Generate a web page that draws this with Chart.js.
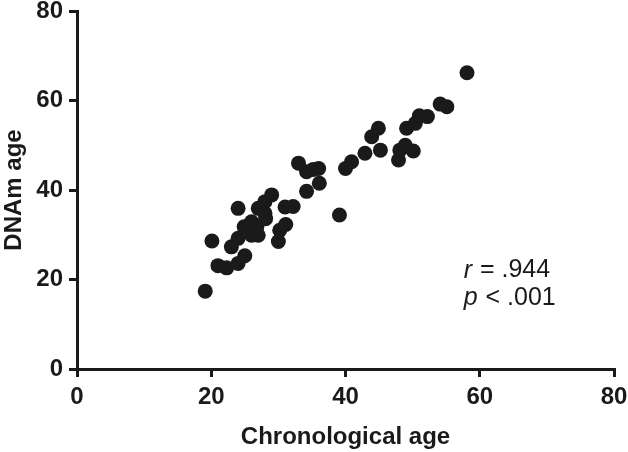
<!DOCTYPE html>
<html>
<head>
<meta charset="utf-8">
<script src="https://cdn.jsdelivr.net/npm/chart.js@4/dist/chart.umd.min.js"></script>
<style>
html,body{margin:0;padding:0;background:#fff;}
#wrap{width:628px;height:452px;position:relative;}
</style>
</head>
<body>
<div id="wrap"><canvas id="c" width="628" height="452"></canvas></div>
<script>
const chronoAge = [19.1,20.1,21.0,22.3,23.0,24.0,24.0,24.0,25.0,24.9,26.0,26.0,27.0,26.8,27.0,28.0,29.0,28.0,28.1,31.0,32.2,30.2,31.1,30.0,34.2,33.0,34.2,35.2,36.0,36.1,39.1,40.0,40.9,42.9,43.9,44.9,45.2,47.9,48.1,49.1,48.9,50.1,50.4,51.0,52.2,54.1,55.1,58.1];
const dnamAge  = [17.4,28.6,23.1,22.6,27.3,35.9,29.2,23.6,25.3,31.8,32.9,29.9,29.9,31.8,35.9,37.4,38.9,34.8,33.6,36.2,36.3,31.0,32.3,28.5,39.7,46.0,44.1,44.6,44.8,41.5,34.4,44.8,46.3,48.2,51.9,53.8,48.9,46.7,48.9,53.8,50.0,48.7,54.9,56.6,56.4,59.2,58.6,66.2];
const xTicks = [0,20,40,60,80];
const yTicks = [0,20,40,60,80];
const statR = ".944";
const statP = ".001";

const points = chronoAge.map((x,i)=>({x:x,y:dnamAge[i]}));
const FONT = "'Liberation Sans', Arial, sans-serif";
const INK = '#1a1a1a';

const statsPlugin = {
  id:'stats',
  afterDraw(chart){
    const ctx = chart.ctx, xs = chart.scales.x, ys = chart.scales.y;
    const lines = [["r"," = "+statR, 22.0],["p"," < "+statP, 15.9]];
    ctx.save();
    ctx.fillStyle = INK;
    ctx.textBaseline = 'middle';
    lines.forEach(([a,b,yv])=>{
      const px = xs.getPixelForValue(57.6), py = ys.getPixelForValue(yv);
      ctx.font = "italic 25px " + FONT;
      ctx.fillText(a, px, py);
      const w = ctx.measureText(a).width;
      ctx.font = "25px " + FONT;
      ctx.fillText(b, px + w + 1, py);
    });
    ctx.restore();
  }
};

new Chart(document.getElementById('c'), {
  type:'scatter',
  data:{datasets:[{data:points, backgroundColor:INK, borderColor:INK, pointRadius:7.5, pointHoverRadius:7.5, borderWidth:0}]},
  options:{
    responsive:false, animation:false, devicePixelRatio:1,
    layout:{padding:{top:11,right:14,left:0,bottom:0}},
    plugins:{legend:{display:false}, tooltip:{enabled:false}},
    scales:{
      x:{type:'linear', min:0, max:80,
        afterBuildTicks(s){ s.ticks = xTicks.map(v=>({value:v})); },
        afterFit(s){ s.height = 83; s.paddingLeft = 0; s.paddingRight = 0; },
        grid:{drawOnChartArea:false, drawTicks:true, tickLength:8, color:INK, lineWidth:3},
        border:{display:true, color:INK, width:3},
        ticks:{color:INK, font:{family:FONT, size:24, weight:'bold'}, padding:6, maxRotation:0},
        title:{display:true, text:'Chronological age', color:INK, font:{family:FONT, size:24, weight:'bold'}, padding:{top:0,bottom:0}}
      },
      y:{type:'linear', min:0, max:80,
        afterBuildTicks(s){ s.ticks = yTicks.map(v=>({value:v})); },
        afterFit(s){ s.width = 77; s.paddingTop = 0; s.paddingBottom = 0; },
        grid:{drawOnChartArea:false, drawTicks:true, tickLength:8, color:INK, lineWidth:3},
        border:{display:true, color:INK, width:3},
        ticks:{color:INK, font:{family:FONT, size:24, weight:'bold'}, padding:6},
        title:{display:true, text:'DNAm age', color:INK, font:{family:FONT, size:24, weight:'bold'}, padding:{top:0,bottom:0}}
      }
    }
  },
  plugins:[statsPlugin]
});
</script>
</body>
</html>
